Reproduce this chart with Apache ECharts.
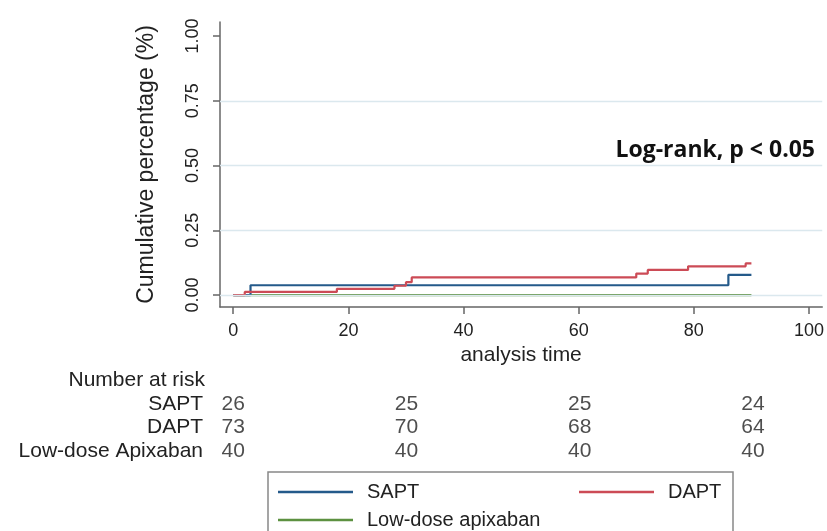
<!DOCTYPE html>
<html>
<head>
<meta charset="utf-8">
<script src="https://cdn.jsdelivr.net/npm/echarts@6/dist/echarts.min.js"></script>
<style>
html,body{margin:0;padding:0;background:#fff;}
#c{width:827px;height:531px;}
</style>
</head>
<body>
<div id="c"></div>
<script>
// ---- data ----
var saptTimes = [0, 3, 86, 90];
var saptValues = [0, 0.038, 0.078, 0.078];
var daptTimes = [0, 2, 18, 28, 30, 31, 70, 72, 79, 89, 90];
var daptValues = [0, 0.012, 0.024, 0.036, 0.05, 0.068, 0.083, 0.097, 0.111, 0.122, 0.122];
var lowTimes = [0, 90];
var lowValues = [0, 0];

var xTicks = [0, 20, 40, 60, 80, 100];
var yTicks = [0, 0.25, 0.5, 0.75, 1.0];
var yGridLines = [0, 0.25, 0.5, 0.75];

var riskTimes = [0, 30, 60, 90];
var riskGroups = ['SAPT', 'DAPT', 'Low-dose Apixaban'];
var riskSAPT = [26, 25, 25, 24];
var riskDAPT = [73, 70, 68, 64];
var riskLow = [40, 40, 40, 40];

var seriesNames = ['SAPT', 'DAPT', 'Low-dose apixaban'];
var seriesColors = ['#245a8a', '#cc4b56', '#5c9140'];

// ---- build ----
function pairs(t, v) { return t.map(function (x, i) { return [x, v[i]]; }); }
var riskRows = [riskSAPT, riskDAPT, riskLow];
var riskData = [];
riskRows.forEach(function (row, gi) {
  row.forEach(function (n, ti) { riskData.push([riskTimes[ti], riskGroups[gi], n]); });
});

var FONT = '"Liberation Sans", Arial, sans-serif';
var XMIN = -2.3, XMAX = 102.3;

var chart = echarts.init(document.getElementById('c'), null, {renderer: 'canvas'});
var lineCommon = function (name, data, color) {
  return {
    name: name, type: 'line', step: 'end', data: data,
    xAxisIndex: 0, yAxisIndex: 0,
    symbol: 'none', showSymbol: false, z: 3,
    lineStyle: {color: color, width: 2.2},
    itemStyle: {color: color},
    animation: false
  };
};

chart.setOption({
  animation: false,
  backgroundColor: '#ffffff',
  textStyle: {fontFamily: FONT},
  grid: [
    {left: 220, right: 3, top: 22, bottom: 224, containLabel: false},
    {left: 220, right: 3, top: 392, height: 71, containLabel: false}
  ],
  xAxis: [
    {
      type: 'value', gridIndex: 0, min: XMIN, max: XMAX,
      axisLine: {show: true, onZero: false, lineStyle: {color: '#666', width: 1.5}},
      axisTick: {show: true, customValues: xTicks, length: 7, inside: false, lineStyle: {color: '#666', width: 1.5}},
      axisLabel: {customValues: xTicks, fontSize: 18, color: '#222', margin: 15, fontFamily: FONT},
      splitLine: {show: false},
      name: 'analysis time', nameLocation: 'middle', nameGap: 35,
      nameTextStyle: {fontSize: 21, color: '#222', fontFamily: FONT}
    },
    {
      type: 'value', gridIndex: 1, min: XMIN, max: XMAX, show: false
    }
  ],
  yAxis: [
    {
      type: 'value', gridIndex: 0, min: -0.046, max: 1.054,
      axisLine: {show: true, onZero: false, lineStyle: {color: '#666', width: 1.5}},
      axisTick: {show: true, customValues: yTicks, length: 7, inside: false, lineStyle: {color: '#666', width: 1.5}},
      axisLabel: {customValues: yTicks, rotate: 90, fontSize: 18, color: '#222', margin: 18, fontFamily: FONT,
        formatter: function (v) { return Number(v).toFixed(2); }},
      splitLine: {show: false},
      name: 'Cumulative percentage (%)', nameLocation: 'middle', nameGap: 62,
      nameTextStyle: {fontSize: 23, color: '#222', fontFamily: FONT}
    },
    {
      type: 'category', gridIndex: 1, data: riskGroups, inverse: true,
      axisLine: {show: false}, axisTick: {show: false}, splitLine: {show: false},
      axisLabel: {interval: 0, hideOverlap: false, fontSize: 21, color: '#222', margin: 17, fontFamily: FONT}
    }
  ],
  legend: {
    left: 268, top: 472, orient: 'horizontal', width: 450,
    padding: [10, 5, 20, 10], itemGap: 8,
    borderColor: '#888', borderWidth: 1.5, borderRadius: 0,
    icon: 'rect', itemWidth: 75, itemHeight: 2.5,
    textStyle: {fontSize: 20, color: '#222', fontFamily: FONT, padding: [0, 0, 0, 9], lineHeight: 20},
    data: [
      {name: 'SAPT', textStyle: {width: 204}},
      {name: 'DAPT', textStyle: {width: 60}},
      {name: 'Low-dose apixaban'}
    ]
  },
  series: [
    {
      name: 'grid', type: 'line', data: [], xAxisIndex: 0, yAxisIndex: 0, z: 1, silent: true,
      markLine: {
        silent: true, symbol: ['none', 'none'], label: {show: false}, animation: false,
        lineStyle: {color: '#dbe8ee', width: 1.3, type: 'solid'},
        data: yGridLines.map(function (v) { return {yAxis: v}; })
      }
    },
    lineCommon(seriesNames[2], pairs(lowTimes, lowValues), seriesColors[2]),
    lineCommon(seriesNames[0], pairs(saptTimes, saptValues), seriesColors[0]),
    lineCommon(seriesNames[1], pairs(daptTimes, daptValues), seriesColors[1]),
    {
      name: 'risk', type: 'scatter', xAxisIndex: 1, yAxisIndex: 1, data: riskData,
      symbolSize: 1, itemStyle: {color: 'rgba(0,0,0,0)'}, silent: true,
      label: {show: true, position: 'inside', fontSize: 21, color: '#222', fontFamily: FONT,
        formatter: function (p) { return String(p.value[2]); }}
    }
  ],
  graphic: [
    {type: 'text', x: 205, y: 380,
      style: {text: 'Number at risk', fontSize: 21, fill: '#222', fontFamily: FONT, align: 'right', verticalAlign: 'middle'}},
    {type: 'text', x: 815, y: 150,
      style: {text: 'Log-rank, p < 0.05', fontSize: 23, fontWeight: 'bold', fill: '#111', fontFamily: '"Open Sans", sans-serif', align: 'right', verticalAlign: 'middle'}}
  ]
});
</script>
</body>
</html>
